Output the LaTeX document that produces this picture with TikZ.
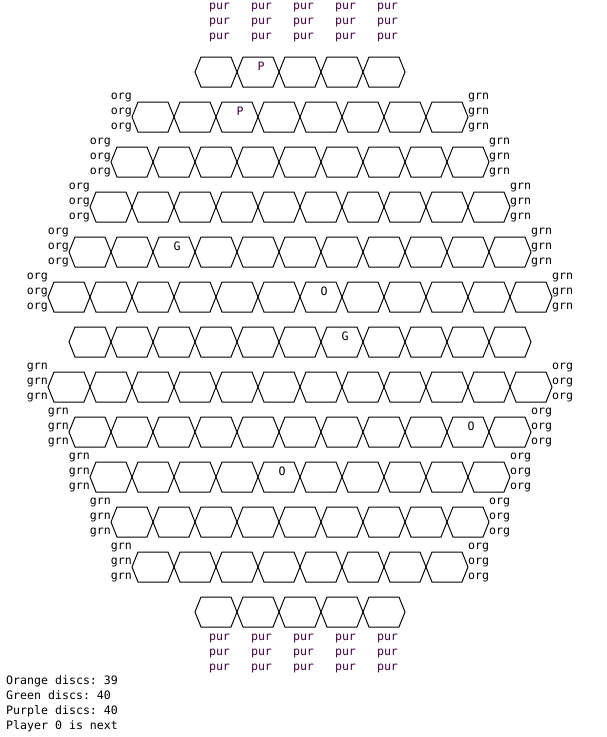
\documentclass[tikz,border=0pt]{standalone}
\usepackage{fontspec}
\setmonofont{DejaVu Sans Mono}
\usetikzlibrary{calc}
\definecolor{purtxt}{HTML}{420042}
\begin{document}
\begin{tikzpicture}[x=1pt,y=-1pt,
  hexcell/.pic={\draw[line width=1pt,line join=miter] (-21,0) -- (-15,-15) -- (15,-15) -- (21,0) -- (15,15) -- (-15,15) -- cycle;},
  lbl/.style={font=\fontsize{11.6}{15}\selectfont\ttfamily, inner sep=0pt, text=black},
  purlbl/.style={lbl, text=purtxt}]
\useasboundingbox (0,0) rectangle (606,737);
% board
\foreach \n [count=\r from 0] in {5,8,9,10,11,12,11,12,11,10,9,8,5} {
  \pgfmathsetmacro\cy{72+45*\r}
  \foreach \k in {1,...,\n} {
    \coordinate (h\r-\k) at ({300-21*(\n+1)+42*\k},\cy);
    \pic at (h\r-\k) {hexcell};
  }
}
% side labels
\foreach \n/\r/\lt/\rt in {8/1/org/grn,9/2/org/grn,10/3/org/grn,11/4/org/grn,12/5/org/grn,
                           12/7/grn/org,11/8/grn/org,10/9/grn/org,9/10/grn/org,8/11/grn/org} {
  \pgfmathsetmacro\cy{72+45*\r}
  \foreach \d [count=\i] in {-18,-3,12} {
    \node[lbl,anchor=base east] (L\r-\i) at ({300-21*\n},\cy+\d) {\lt};
    \node[lbl,anchor=base west] (R\r-\i) at ({300+21*\n},\cy+\d) {\rt};
  }
}
% top and bottom purple labels
\foreach \k in {1,...,5} {
  \foreach \b [count=\i] in {9.5,24.5,39.5} {
    \node[purlbl,anchor=base] (T\k-\i) at ({258-84+42*\k+3.5},\b) {pur};
  }
  \foreach \b [count=\i] in {640,655,670} {
    \node[purlbl,anchor=base] (B\k-\i) at ({258-84+42*\k+3.5},\b) {pur};
  }
}
% discs
\node[purlbl,anchor=base] (d1) at ($(h0-2)+(3,-2)$) {P};
\node[purlbl,anchor=base] (d2) at ($(h1-3)+(3,-2)$) {P};
\node[lbl,anchor=base] (d3) at ($(h4-3)+(3,-2)$) {G};
\node[lbl,anchor=base] (d4) at ($(h5-7)+(3,-2)$) {O};
\node[lbl,anchor=base] (d5) at ($(h6-7)+(3,-2)$) {G};
\node[lbl,anchor=base] (d6) at ($(h8-10)+(3,-2)$) {O};
\node[lbl,anchor=base] (d7) at ($(h9-5)+(3,-2)$) {O};
% status text
\node[lbl,anchor=base west] (s1) at (6,684.5) {Orange discs: 39};
\node[lbl,anchor=base west] (s2) at (6,699.5) {Green discs: 40};
\node[lbl,anchor=base west] (s3) at (6,714.5) {Purple discs: 40};
\node[lbl,anchor=base west] (s4) at (6,729.5) {Player 0 is next};
\end{tikzpicture}
\end{document}
